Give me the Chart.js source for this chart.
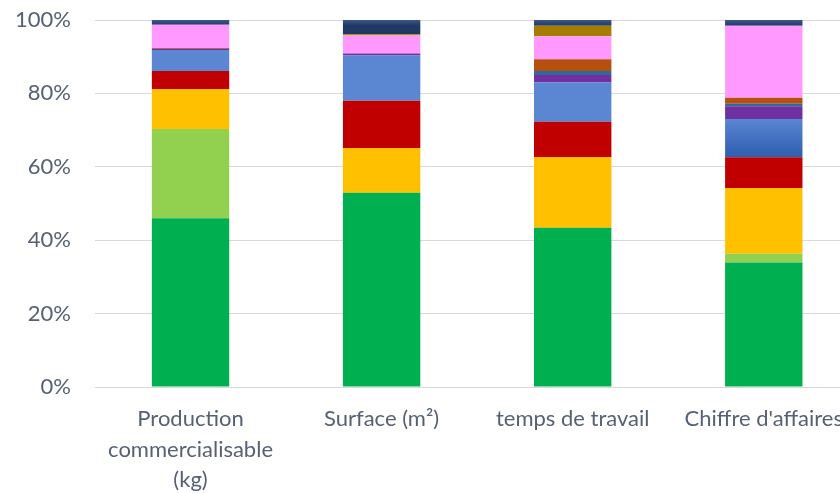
<!DOCTYPE html>
<html>
<head>
<meta charset="utf-8">
<script src="https://cdn.jsdelivr.net/npm/chart.js@4/dist/chart.umd.min.js"></script>
<style>
  html, body { margin: 0; padding: 0; background: #fff; overflow: hidden; }
  #wrap { width: 840px; height: 493px; overflow: hidden; position: relative; }
  #c { position: absolute; left: 0; top: 0; }
</style>
</head>
<body>
<div id="wrap"><canvas id="c" width="860" height="493"></canvas></div>
<script>
// Categories (x axis)
const categories = [
  ['Production', 'commercialisable', '(kg)'],
  'Surface (m²)',
  'temps de travail',
  "Chiffre d'affaires"
];

// Share of each group per indicator (%), stacked bottom to top
const groupA = [46.0, 52.9, 43.4, 33.9]; // green
const groupB = [24.3, 0.0, 0.0, 2.4];    // light green
const groupC = [10.9, 12.2, 19.3, 17.9]; // gold
const groupD = [4.9, 12.9, 9.6, 8.4];    // red
const groupE = [5.7, 12.3, 10.7, 10.4];  // blue
const groupF = [0.4, 0.6, 2.0, 3.5];     // purple
const groupG = [0.0, 0.0, 1.1, 0.7];     // steel blue
const groupH = [0.2, 0.0, 3.2, 1.6];     // rust
const groupI = [6.3, 4.9, 6.3, 19.6];    // pink
const groupJ = [0.0, 0.3, 2.8, 0.0];     // dark gold
const groupK = [1.3, 3.9, 1.6, 1.6];     // navy

const yTicks = [0, 20, 40, 60, 80, 100];

const series = [
  { data: groupA, color: '#00B050' },
  { data: groupB, color: '#92D050' },
  { data: groupC, color: '#FFC000' },
  { data: groupD, color: '#C00000' },
  { data: groupE, color: '#4472C4', shade: ['#5A86D2', '#2F5DB0'] },
  { data: groupF, color: '#7030A0' },
  { data: groupG, color: '#2E6A9E' },
  { data: groupH, color: '#B5500F' },
  { data: groupI, color: '#FF99FF' },
  { data: groupJ, color: '#A67C00' },
  { data: groupK, color: '#203864', shade: ['#3D578C', '#1F3864'] }
];

const textColor = '#566173';
const fontFamily = "Lato, 'Open Sans', sans-serif";

// Vertical shading on some segments, built from each bar's own top and base
const shadePlugin = {
  id: 'shade',
  beforeDatasetsDraw(chart) {
    const ctx = chart.ctx;
    chart.data.datasets.forEach((ds, i) => {
      const s = series[i];
      if (!s.shade) return;
      chart.getDatasetMeta(i).data.forEach(bar => {
        const top = Math.min(bar.y, bar.base);
        const bottom = Math.max(bar.y, bar.base);
        if (bottom - top < 0.5) return;
        const g = ctx.createLinearGradient(0, top, 0, bottom);
        g.addColorStop(0, s.shade[0]);
        g.addColorStop(1, s.shade[1]);
        bar.options.backgroundColor = g;
      });
    });
  }
};

new Chart(document.getElementById('c'), {
  type: 'bar',
  data: {
    labels: categories,
    datasets: series.map((s, i) => ({
      label: 'g' + i,
      data: s.data,
      backgroundColor: s.color,
      borderWidth: 0,
      categoryPercentage: 1,
      barPercentage: 0.405
    }))
  },
  options: {
    responsive: false,
    animation: false,
    layout: { padding: { top: 20, left: 0, right: 0, bottom: 0 } },
    plugins: { legend: { display: false }, tooltip: { enabled: false } },
    scales: {
      x: {
        stacked: true,
        grid: { display: false, drawTicks: false },
        border: { display: false },
        ticks: {
          color: textColor,
          padding: 17,
          maxRotation: 0,
          autoSkip: false,
          font: { family: fontFamily, size: 22, lineHeight: 1.38 }
        },
        afterFit: (scale) => { scale.height = 106; scale.paddingTop = 0; }
      },
      y: {
        stacked: true,
        min: 0,
        max: 100,
        afterBuildTicks: (scale) => { scale.ticks = yTicks.map(v => ({ value: v })); },
        grid: { color: '#D9D9D9', lineWidth: 1, drawTicks: false },
        border: { display: false },
        ticks: {
          color: textColor,
          padding: 24,
          font: { family: fontFamily, size: 22 },
          callback: (v) => v + '%'
        },
        afterFit: (scale) => { scale.width = 95; scale.paddingTop = 0; }
      }
    }
  },
  plugins: [shadePlugin]
});
</script>
</body>
</html>
